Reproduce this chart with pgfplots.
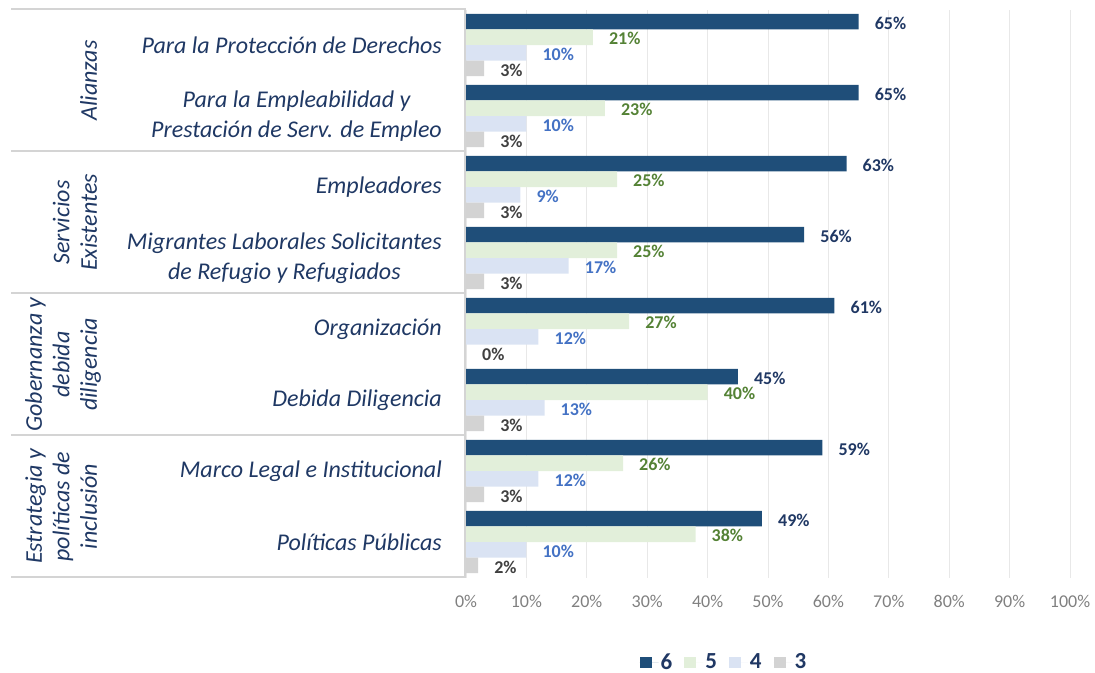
\documentclass[border=0pt]{standalone}
\usepackage{pgfplots}
\pgfplotsset{compat=1.18}
\usepackage{fontspec}
\setmainfont{Carlito}
\definecolor{c6}{HTML}{1F4E79}
\definecolor{c5}{HTML}{E2EFDA}
\definecolor{c4}{HTML}{DAE3F3}
\definecolor{c3}{HTML}{D3D3D3}
\definecolor{l6}{HTML}{203864}
\definecolor{l5}{HTML}{548235}
\definecolor{l4}{HTML}{4472C4}
\definecolor{l3}{HTML}{404040}
\definecolor{catc}{HTML}{1F3864}
\definecolor{tickc}{HTML}{808080}
\definecolor{boxc}{HTML}{D4D4D4}
\definecolor{gridc}{HTML}{E8E8E8}
\pgfplotsset{mylegend/.style={legend image code/.code={\fill[##1] (0pt,-5.5pt) rectangle (12pt,5.5pt); \path (0pt,0pt) -- (19pt,0pt);}}}
\begin{document}
\begin{tikzpicture}[x=1pt,y=1pt]
\begin{axis}[
  at={(466pt,94.5pt)}, anchor=south west,
  scale only axis, width=604pt, height=568pt,
  xmin=0, xmax=100, ymin=-0.5, ymax=7.5,
  xbar, bar width=15.6pt,
  axis line style={draw=none},
  /pgf/number format/assume math mode=true,
  xtick={0,10,...,100},
  xticklabel={\pgfmathprintnumber{\tick}\%},
  xmajorgrids, grid style={color=gridc, line width=1pt},
  major tick length=0pt,
  xticklabel style={font=\fontsize{18}{18}\selectfont, text=tickc, inner sep=0pt, yshift=-18pt},
  ytick={0,...,7},
  yticklabels={Políticas Públicas, Marco Legal e Institucional, Debida Diligencia, Organización, {Migrantes Laborales Solicitantes\\de Refugio y Refugiados}, Empleadores, {Para la Empleabilidad y\\Prestación de Serv. de Empleo}, Para la Protección de Derechos},
  yticklabel style={font=\itshape\fontsize{24}{30}\selectfont, text=catc, align=center, anchor=east, inner sep=0pt, xshift=-24pt},
  point meta=x,
  nodes near coords={\pgfmathprintnumber{\pgfplotspointmeta}\%},
  every node near coord/.append style={anchor=west, inner sep=0pt, xshift=16pt, yshift=-1.5pt, font=\bfseries\fontsize{18}{18}\selectfont},
  clip=false,
  legend columns=4,
  legend style={at={(0.427,-0.1488)}, anchor=center, draw=none, fill=none, font=\bfseries\fontsize{23}{23}\selectfont, text=l6, /tikz/every even column/.append style={column sep=10pt}},
]
\addplot[fill=c6, draw=none, bar shift=23.4pt, mylegend, every node near coord/.append style={text=l6}] coordinates {(65,7) (65,6) (63,5) (56,4) (61,3) (45,2) (59,1) (49,0)};
\addplot[fill=c5, draw=none, bar shift=7.8pt, mylegend, every node near coord/.append style={text=l5}] coordinates {(21,7) (23,6) (25,5) (25,4) (27,3) (40,2) (26,1) (38,0)};
\addplot[fill=c4, draw=none, bar shift=-7.8pt, mylegend, every node near coord/.append style={text=l4}] coordinates {(10,7) (10,6) (9,5) (17,4) (12,3) (13,2) (12,1) (10,0)};
\addplot[fill=c3, draw=none, bar shift=-23.4pt, mylegend, every node near coord/.append style={text=l3}] coordinates {(3,7) (3,6) (3,5) (3,4) (0,3) (3,2) (3,1) (2,0)};
\legend{6,5,4,3}
\end{axis}
\draw[boxc, line width=2pt] (11,662.5) -- (465,662.5);
\draw[boxc, line width=2pt] (11,520.5) -- (465,520.5);
\draw[boxc, line width=2pt] (11,378.5) -- (465,378.5);
\draw[boxc, line width=2pt] (11,236.5) -- (465,236.5);
\draw[boxc, line width=2pt] (11,94.5) -- (465,94.5);
\draw[boxc, line width=2pt] (465,663.5) -- (465,93.5);
\begin{scope}[every node/.style={rotate=90, anchor=south, align=center, inner sep=0pt, text depth=0pt, font=\itshape\fontsize{24}{27.5}\selectfont, text=catc}]
\node at (97,591.5) {Alianzas};
\node at (97,449.5) {Servicios\\Existentes};
\node at (97,307.5) {Gobernanza y\\debida\\diligencia};
\node at (97,165.5) {Estrategia y\\políticas de\\inclusión};
\end{scope}
\pgfresetboundingbox
\path (0,0) rectangle (1095,672);
\end{tikzpicture}
\end{document}
